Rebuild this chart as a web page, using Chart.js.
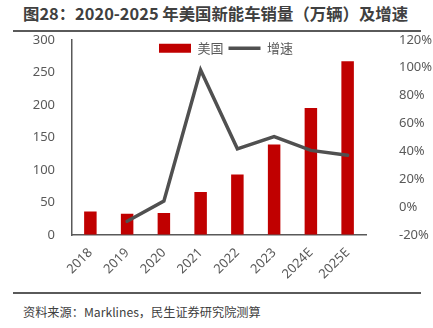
<!DOCTYPE html>
<html>
<head>
<meta charset="utf-8">
<script src="https://cdn.jsdelivr.net/npm/chart.js@4.4.1/dist/chart.umd.min.js"></script>
<style>
  html, body { margin: 0; padding: 0; background: #fff; width: 433px; height: 328px; overflow: hidden; position: relative; }
  #title { position: absolute; left: 13px; top: 0; width: 408px; height: 30px; border-bottom: 2px solid #5a5a5a; }
  #title span { position: absolute; left: 10px; top: 0; line-height: 26px; white-space: nowrap;
           font-family: "Noto Sans CJK SC", "Noto Sans", sans-serif; font-weight: bold; font-size: 16.4px; color: #404040; }
  #wrap { position: absolute; left: 0; top: 30px; width: 433px; height: 260px; }
  #foot { position: absolute; left: 13px; top: 292px; width: 408px; height: 36px; border-top: 2px solid #5a5a5a; }
  #foot span { position: absolute; left: 10px; top: 0; line-height: 36px; white-space: nowrap;
          font-family: "Noto Sans CJK SC", "Noto Sans", sans-serif; font-size: 12.2px; color: #404040; }
</style>
</head>
<body>
<div id="title"><span>图28：2020-2025 年美国新能车销量（万辆）及增速</span></div>
<div id="wrap"><canvas id="c" width="433" height="260"></canvas></div>
<div id="foot"><span>资料来源：Marklines，民生证券研究院测算</span></div>
<script>
const categories = ["2018", "2019", "2020", "2021", "2022", "2023", "2024E", "2025E"];
const salesValues = [36, 32.5, 34, 66, 93, 139, 195, 267];
const growthValues = [null, -10.2, 4.3, 98.3, 41.8, 50.5, 40.7, 37.2];
const salesLabel = "美国";
const growthLabel = "增速";

const tickFont = { family: "'Noto Sans', 'Open Sans', sans-serif", size: 13 };
const tickColor = "#595959";

// lay the in-plot legend out as a single horizontal row across the plot area
const horizontalLegendInArea = {
  id: "horizontalLegendInArea",
  beforeUpdate(chart) {
    if (chart.legend) chart.legend.isHorizontal = () => true;
  },
  afterUpdate(chart) {
    const lg = chart.legend, ca = chart.chartArea;
    if (!lg || !ca) return;
    lg.left = ca.left + 14;
    lg.right = ca.right;
    lg.top = ca.top - 3;
    lg.bottom = lg.top + lg.height;
    if (lg.adjustHitBoxes) lg.adjustHitBoxes();
  }
};

new Chart(document.getElementById("c"), {
  data: {
    labels: categories,
    datasets: [
      { type: "bar", label: salesLabel, data: salesValues, backgroundColor: "#C00000", borderWidth: 0,
        barPercentage: 0.34, categoryPercentage: 1, yAxisID: "y", order: 1, pointStyle: "rect" },
      { type: "line", label: growthLabel, data: growthValues, borderColor: "#505050", backgroundColor: "#505050",
        borderWidth: 3.5, pointRadius: 0, pointHoverRadius: 0, tension: 0, yAxisID: "y1", order: 0, pointStyle: "line",
        borderCapStyle: "round", borderJoinStyle: "miter" }
    ]
  },
  plugins: [horizontalLegendInArea],
  options: {
    responsive: false,
    animation: false,
    layout: { padding: { top: 0, left: 0, right: 0, bottom: 0 } },
    plugins: {
      tooltip: { enabled: false },
      legend: {
        position: "chartArea",
        align: "center",
        labels: {
          usePointStyle: true,
          pointStyleWidth: 32,
          boxHeight: 9,
          padding: 5,
          color: "#595959",
          font: { family: "'Noto Sans CJK SC', sans-serif", size: 13 },
          sort: (a, b) => a.datasetIndex - b.datasetIndex
        }
      }
    },
    scales: {
      x: {
        offset: true,
        grid: { display: false, drawTicks: false },
        border: { display: true, color: "#595959", width: 1.5 },
        ticks: { color: tickColor, font: tickFont, minRotation: 45, maxRotation: 45, padding: 10 },
        afterFit: (s) => { s.height = 55; }
      },
      y: {
        position: "left",
        min: 0, max: 300,
        grid: { display: true, drawOnChartArea: false, drawTicks: true, tickLength: 15, color: "rgba(0,0,0,0)" },
        border: { display: true, color: "#595959", width: 1.5 },
        ticks: { stepSize: 50, color: tickColor, font: tickFont, padding: 2 },
        afterFit: (s) => { s.width = 72; }
      },
      y1: {
        position: "right",
        min: -20, max: 120,
        grid: { display: true, drawOnChartArea: false, drawTicks: true, tickLength: 31, color: "rgba(0,0,0,0)" },
        border: { display: false },
        ticks: { stepSize: 20, color: tickColor, font: tickFont, padding: 2, callback: (v) => v + "%" },
        afterFit: (s) => { s.width = 67; }
      }
    }
  }
});
</script>
</body>
</html>
